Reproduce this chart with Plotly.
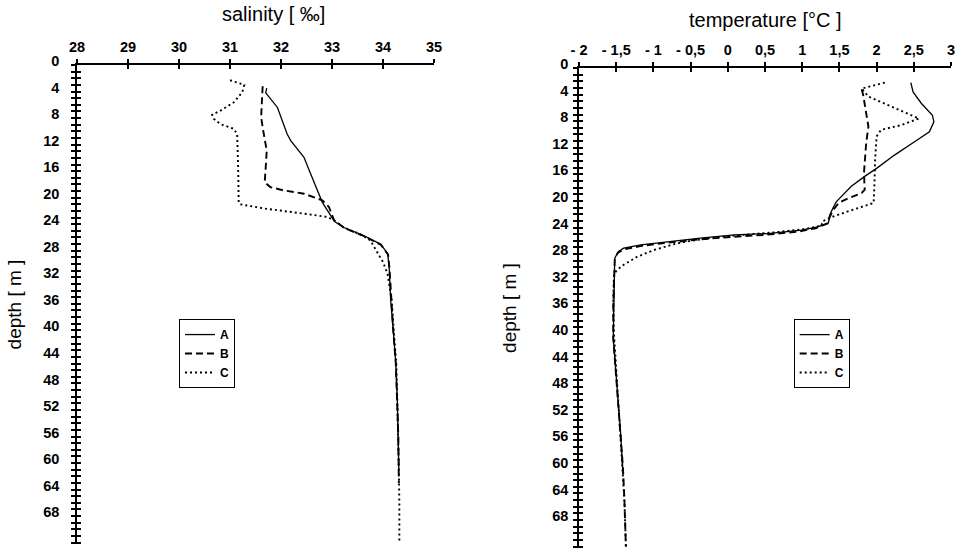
import plotly.graph_objects as go

# ---------------- data ----------------
depth_tick_vals = list(range(0, 73))
depth_tick_text = [str(v) if (v % 4 == 0 and v <= 68) else "" for v in depth_tick_vals]

sal_tick_vals = [28, 29, 30, 31, 32, 33, 34, 35]
sal_tick_text = ["28", "29", "30", "31", "32", "33", "34", "35"]

temp_tick_vals = [-2, -1.5, -1, -0.5, 0, 0.5, 1, 1.5, 2, 2.5, 3]
temp_tick_text = ["- 2", "- 1,5", "- 1", "- 0,5", "0", "0,5", "1", "1,5", "2", "2,5", "3"]

sal_title = "salinity [ ‰]"
temp_title = "temperature [°C ]"
depth_title = "depth [ m ]"

# salinity profiles
sal_A_depth = [3.5, 4.2, 6.4, 8.5, 10.4, 11.4, 13.9, 16.4, 18.9, 20.7, 23.0, 23.6, 24.5, 25.7,
               27.0, 28.4, 30.5, 35.5, 40, 45, 50.5, 56, 61]
sal_A = [31.72, 31.70, 31.93, 32.03, 32.12, 32.19, 32.45, 32.58, 32.71, 32.81, 33.00, 33.05, 33.23, 33.62,
         33.95, 34.09, 34.12, 34.15, 34.20, 34.25, 34.28, 34.30, 34.31]

sal_B_depth = [3.2, 4.9, 7.9, 10.3, 12.9, 15.4, 17.7, 18.4, 18.9, 19.4, 20.4, 21.4, 23.4, 24.6, 25.8,
               27.1, 28.6, 31, 35.5, 40, 45, 50.5, 56, 63]
sal_B = [31.64, 31.63, 31.61, 31.66, 31.72, 31.70, 31.68, 31.79, 32.05, 32.45, 32.81, 32.94, 33.04, 33.25, 33.63,
         33.96, 34.10, 34.13, 34.16, 34.20, 34.25, 34.28, 34.30, 34.31]

sal_C_depth = [2.3, 3.0, 4.1, 5.6, 6.9, 7.5, 8.1, 8.9, 9.6, 10.4, 15.4, 20.7, 21.0, 21.7, 22.4, 22.9, 23.4,
               24.5, 25.5, 26.4, 28.4, 29.7, 31.5, 35.5, 40, 45, 50.5, 56, 61, 66, 72]
sal_C = [31.00, 31.28, 31.24, 31.08, 30.81, 30.65, 30.68, 30.81, 31.07, 31.14, 31.16, 31.17, 31.20, 31.73, 32.45,
         32.90, 33.04, 33.23, 33.55, 33.75, 33.90, 34.00, 34.09, 34.17, 34.21, 34.26, 34.28, 34.30, 34.31, 34.32, 34.32]

# temperature profiles
temp_A_depth = [2.2, 3.6, 5.3, 7.1, 8.1, 9.6, 11.1, 13.1, 15.1, 16.3, 17.8, 20.1, 20.9, 22.1, 22.9, 23.3, 23.9,
                24.4, 24.9, 25.1, 25.6, 26.1, 26.6, 27.1, 27.6, 28.6, 32.9, 36, 40.6, 45, 50, 55, 61]
temp_A = [2.46, 2.49, 2.60, 2.75, 2.77, 2.71, 2.51, 2.24, 2.00, 1.84, 1.66, 1.46, 1.42, 1.37, 1.36, 1.35, 1.21,
          0.99, 0.54, 0.09, -0.37, -0.81, -1.17, -1.40, -1.47, -1.52, -1.53, -1.53, -1.54, -1.51, -1.47, -1.44, -1.41]

temp_B_depth = [3.2, 4.1, 6.8, 8.8, 11.3, 13.8, 15.8, 18.3, 18.8, 19.6, 20.3, 21.3, 22.4, 23.4, 24.1, 24.6, 25.1,
                25.4, 25.8, 26.3, 26.8, 27.3, 27.8, 28.8, 33, 36, 40.6, 45, 50, 55, 60, 65, 72]
temp_B = [1.80, 1.82, 1.86, 1.89, 1.86, 1.84, 1.83, 1.84, 1.80, 1.62, 1.49, 1.42, 1.37, 1.34, 1.18, 0.95, 0.50,
          0.05, -0.40, -0.83, -1.18, -1.40, -1.48, -1.52, -1.53, -1.54, -1.54, -1.51, -1.47, -1.44, -1.41, -1.39, -1.37]

temp_C_depth = [2.2, 3.1, 4.3, 5.8, 7.1, 7.6, 8.6, 9.3, 10.3, 13.8, 17.8, 20.3, 21.4, 22.4, 23.1, 23.7, 24.2,
                24.7, 25.1, 25.5, 26.0, 26.4, 27.4, 28.4, 29.6, 30.4, 31.0, 35, 40, 45, 50, 55, 60, 65, 72]
temp_C = [2.11, 1.80, 1.89, 2.20, 2.46, 2.57, 2.33, 2.06, 2.00, 1.98, 1.97, 1.96, 1.66, 1.40, 1.27, 1.26, 1.05,
          0.65, 0.20, -0.20, -0.50, -0.69, -1.00, -1.22, -1.40, -1.49, -1.53, -1.54, -1.53, -1.50, -1.47, -1.44,
          -1.41, -1.39, -1.37]

# ---------------- styling ----------------
FONT = "Liberation Sans, Arial, sans-serif"
line_styles = {
    "A": dict(color="black", width=1.3, dash="solid"),
    "B": dict(color="black", width=1.9, dash="7px,4px"),
    "C": dict(color="black", width=1.9, dash="2px,3px"),
}

fig = go.Figure()

for name, xs, ys in [("A", sal_A, sal_A_depth), ("B", sal_B, sal_B_depth), ("C", sal_C, sal_C_depth)]:
    fig.add_trace(go.Scatter(x=xs, y=ys, mode="lines", name=name, line=line_styles[name],
                             xaxis="x", yaxis="y", legend="legend"))
for name, xs, ys in [("A", temp_A, temp_A_depth), ("B", temp_B, temp_B_depth), ("C", temp_C, temp_C_depth)]:
    fig.add_trace(go.Scatter(x=xs, y=ys, mode="lines", name=name, line=line_styles[name],
                             xaxis="x2", yaxis="y2", legend="legend2"))

# empty traces that carry the inward half of the crossing ticks
fig.add_trace(go.Scatter(x=[], y=[], xaxis="x3", yaxis="y3", showlegend=False))
fig.add_trace(go.Scatter(x=[], y=[], xaxis="x4", yaxis="y4", showlegend=False))

tickfont = dict(family=FONT, size=14.5, color="black", weight="bold")
titlefont = dict(family=FONT, size=19, color="black")
headfont = dict(family=FONT, size=20, color="black")

L_X = [0.0, 0.4085]
R_X = [0.5744, 1.0]
L_Y = [0.0083, 1.0]
R_Y = [0.0, 0.9938]
SAL_RANGE = [28, 35]
TEMP_RANGE = [-2, 3]
DEPTH_RANGE = [72.2, 0]

common_x = dict(side="top", showgrid=False, zeroline=False, ticks="outside", ticklen=4, tickwidth=1.5,
                tickcolor="black", showline=True, linecolor="black", linewidth=1.5, tickfont=tickfont,
                ticklabelstandoff=1)
common_y = dict(showgrid=False, zeroline=False, ticks="outside", ticklen=4, tickwidth=1.5, tickcolor="black",
                showline=True, linecolor="black", linewidth=1.5, tickfont=tickfont,
                tickvals=depth_tick_vals, ticktext=depth_tick_text, range=DEPTH_RANGE, ticklabelshift=4)

inner = dict(ticks="inside", ticklen=4, tickwidth=1.5, tickcolor="black", showticklabels=False,
             showline=False, showgrid=False, zeroline=False)

fig.update_layout(
    template="none",
    width=961, height=549, autosize=False,
    margin=dict(l=77, r=10, t=65, b=1),
    paper_bgcolor="white", plot_bgcolor="white",
    xaxis=dict(domain=L_X, range=SAL_RANGE, anchor="y", tickvals=sal_tick_vals, ticktext=sal_tick_text,
               **common_x),
    yaxis=dict(domain=L_Y, anchor="x", ticklabelstandoff=9,
               title=dict(text=depth_title, font=titlefont, standoff=17), **common_y),
    xaxis2=dict(domain=R_X, range=TEMP_RANGE, anchor="y2", tickvals=temp_tick_vals, ticktext=temp_tick_text,
                **common_x),
    yaxis2=dict(domain=R_Y, anchor="x2", ticklabelstandoff=2,
                title=dict(text=depth_title, font=titlefont, standoff=31), **common_y),
    xaxis3=dict(overlaying="x", anchor="y", side="top", range=SAL_RANGE, tickvals=sal_tick_vals, **inner),
    yaxis3=dict(overlaying="y", anchor="x", side="left", range=DEPTH_RANGE, tickvals=depth_tick_vals, **inner),
    xaxis4=dict(overlaying="x2", anchor="y2", side="top", range=TEMP_RANGE, tickvals=temp_tick_vals, **inner),
    yaxis4=dict(overlaying="y2", anchor="x2", side="left", range=DEPTH_RANGE, tickvals=depth_tick_vals, **inner),
    legend=dict(x=0.1167, y=0.474, xanchor="left", yanchor="top", bgcolor="white", bordercolor="black",
                borderwidth=1, font=dict(family=FONT, size=12, color="black", weight="bold"),
                tracegroupgap=0, entrywidth=70, entrywidthmode="pixels"),
    legend2=dict(x=0.820, y=0.474, xanchor="left", yanchor="top", bgcolor="white", bordercolor="black",
                 borderwidth=1, font=dict(family=FONT, size=12, color="black", weight="bold"),
                 tracegroupgap=0, entrywidth=70, entrywidthmode="pixels"),
    annotations=[
        dict(text=sal_title, xref="paper", yref="paper", x=0.2254, y=1.1056, xanchor="center",
             yanchor="middle", showarrow=False, font=headfont),
        dict(text=temp_title, xref="paper", yref="paper", x=0.7883, y=1.0932, xanchor="center",
             yanchor="middle", showarrow=False, font=headfont),
    ],
)

fig.write_html("out.html", config={"displayModeBar": False},
               post_script="document.body.style.margin='0px';")
